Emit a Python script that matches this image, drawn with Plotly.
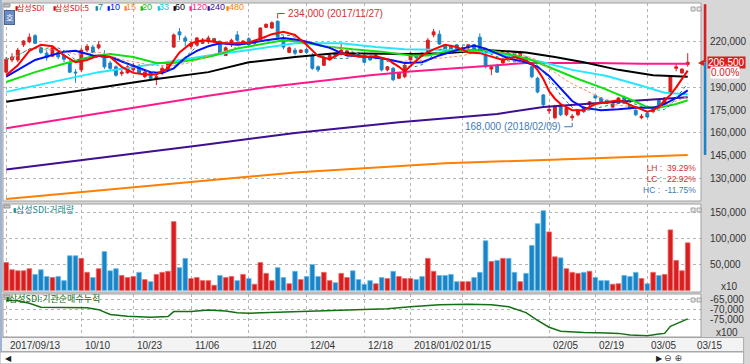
import pandas as pd
import plotly.graph_objects as go

# ---------------- data ----------------
MONTH_DAYS = {
    "2017/09": [13, 14, 15, 18, 19, 20, 21, 22, 25, 26, 27, 28, 29],
    "2017/10": [10, 11, 12, 13, 16, 17, 18, 19, 20, 23, 24, 25, 26, 27, 30, 31],
    "2017/11": [1, 2, 3, 6, 7, 8, 9, 10, 13, 14, 15, 16, 17, 20, 21, 22, 23, 24, 27, 28, 29, 30],
    "2017/12": [1, 4, 5, 6, 7, 8, 11, 12, 13, 14, 15, 18, 19, 20, 21, 22, 26, 27, 28],
    "2018/01": [2, 3, 4, 5, 8, 9, 10, 11, 12, 15, 16, 17, 18, 19, 22, 23, 24, 25, 26, 29, 30, 31],
    "2018/02": [1, 2, 5, 6, 7, 8, 9, 12, 13, 14, 19, 20, 21, 22, 23, 26, 27, 28],
    "2018/03": [2, 5, 6, 7, 8, 9, 12, 13, 14],
}
DATES = [f"{m}/{d:02d}" for m, days in MONTH_DAYS.items() for d in days]
NEXT_DATE = "2018/03/15"

TICK_DATES = ["2017/09/13", "2017/10/10", "2017/10/23", "2017/11/06", "2017/11/20", "2017/12/04",
              "2017/12/18", "2018/01/02", "2018/01/15", "2018/02/05", "2018/02/19", "2018/03/05"]
TICK_LABELS = ["2017/09/13", "10/10", "10/23", "11/06", "11/20", "12/04",
               "12/18", "2018/01/02", "01/15", "02/05", "02/19", "03/05"]
NEXT_LABEL = "03/15"

OPEN = [200000, 208000, 208000, 218000, 220000, 224000, 216000, 212500, 210500, 213000,
        211000, 206000, 200000, 201500, 214500, 216500, 216000, 211000, 206000, 203500,
        199000, 199500, 201500, 204000, 197000, 199500, 196000, 199500, 201500, 216500,
        226500, 222500, 217000, 218000, 219000, 220000, 220000, 220000, 211000, 218000,
        224500, 219000, 222000, 219000, 221000, 229500, 229000, 233500, 222500, 213000,
        214500, 213000, 215000, 211000, 203500, 204500, 208000, 212000, 212500, 211000,
        212500, 212500, 211000, 210000, 209500, 208000, 201500, 202500, 196000, 197000,
        208000, 211000, 212500, 213000, 224500, 225000, 218000, 217000, 218000, 214500,
        216000, 218000, 223000, 211000, 202000, 204500, 206000, 213000, 212500, 211000,
        210000, 203500, 196000, 185000, 174500, 170000, 178500, 172000, 170000, 172000,
        177000, 178500, 184500, 183000, 181500, 177000, 179500, 183500, 178500, 175000,
        170000, 173000, 174000, 181500, 179500, 186000, 202500, 199500, 205000]
HIGH = [210000, 212500, 216000, 221000, 225500, 225000, 217000, 214500, 217000, 214500,
        212500, 208000, 202000, 216000, 218500, 218000, 220500, 214500, 207500, 204500,
        201500, 204500, 206000, 205500, 201500, 200500, 199000, 204000, 207500, 225500,
        229000, 224000, 220000, 223000, 222500, 224000, 222500, 221000, 217000, 222000,
        227000, 221000, 223000, 221000, 229500, 232000, 233500, 234000, 224000, 217000,
        216000, 215000, 216000, 212500, 204500, 210000, 212000, 212500, 219000, 214500,
        214000, 213000, 212000, 210500, 212000, 209500, 204000, 203500, 200000, 205500,
        213000, 212000, 213000, 222500, 228500, 227500, 218500, 218000, 218500, 217000,
        218500, 218500, 225500, 216000, 204000, 205500, 209500, 214500, 213000, 214000,
        210500, 204000, 197000, 185500, 178500, 178500, 179000, 177000, 172500, 175500,
        177500, 181000, 185000, 183500, 182000, 180500, 183500, 184500, 179000, 175500,
        172500, 174000, 177500, 182000, 183500, 197500, 205500, 202500, 212500]
LOW = [199000, 206500, 206500, 216500, 219000, 218500, 212000, 207500, 210000, 208500,
       206500, 199500, 193000, 200000, 213000, 212500, 215000, 202000, 201500, 197000,
       197500, 199000, 200000, 199000, 196000, 195500, 191500, 198000, 200500, 216000,
       221000, 217000, 215000, 217000, 218500, 218500, 219000, 212000, 210500, 216500,
       220000, 218500, 217000, 218500, 220500, 229000, 228500, 222500, 215000, 212500,
       211000, 212500, 212000, 201500, 200000, 204000, 207500, 209500, 211000, 210500,
       210000, 209500, 206000, 207500, 208500, 200500, 200500, 194000, 195500, 196000,
       206500, 208500, 210000, 212500, 223000, 218000, 214000, 214000, 214000, 214000,
       215000, 214000, 212000, 202500, 198000, 199500, 205500, 208500, 210000, 210500,
       206000, 196000, 186000, 177500, 172500, 169000, 171000, 171000, 168000, 171000,
       173000, 177500, 182500, 179500, 179000, 176500, 179000, 179000, 175500, 171000,
       169000, 170000, 173000, 177500, 179000, 185500, 200500, 199000, 203500]
CLOSE = [208500, 210000, 214500, 220500, 223000, 219000, 213000, 209500, 216000, 210000,
         208500, 200000, 199500, 214500, 217000, 213000, 218000, 203500, 202500, 198000,
         200000, 203500, 204500, 199500, 200000, 196000, 197000, 202500, 206000, 224500,
         224500, 220500, 218500, 222500, 221000, 222500, 222000, 212500, 216000, 221000,
         221000, 220500, 218000, 220500, 229000, 231500, 232500, 223000, 216500, 216000,
         212500, 214500, 213000, 202500, 201500, 209500, 211000, 210500, 214500, 214000,
         211000, 210000, 206500, 208000, 211000, 201500, 203500, 195000, 199500, 204500,
         212500, 209500, 210500, 221000, 226500, 218500, 214500, 214500, 214500, 216000,
         218000, 214500, 212500, 203500, 203500, 200000, 208000, 209500, 210500, 213000,
         206500, 197000, 187000, 178500, 175500, 177000, 172000, 176500, 171000, 175000,
         174000, 180500, 183000, 180500, 179500, 179500, 183000, 179500, 176500, 172000,
         171000, 170500, 177000, 178500, 183000, 197000, 203500, 202000, 206500]
VOLUME = [54000, 40000, 38000, 38000, 42000, 31000, 40000, 27000, 25000, 27000,
          19000, 67000, 67000, 62000, 35000, 25000, 42000, 75000, 38000, 42000,
          29000, 25000, 27000, 35000, 21000, 17000, 31000, 35000, 37000, 133000,
          44000, 62000, 23000, 25000, 19000, 19000, 10000, 29000, 25000, 27000,
          19000, 31000, 23000, 12000, 54000, 33000, 19000, 44000, 25000, 13000,
          37000, 21000, 27000, 50000, 27000, 35000, 19000, 15000, 33000, 25000,
          38000, 21000, 12000, 19000, 13000, 25000, 23000, 37000, 27000, 23000,
          23000, 21000, 27000, 62000, 37000, 29000, 29000, 31000, 17000, 17000,
          17000, 25000, 35000, 96000, 56000, 58000, 62000, 62000, 35000, 17000,
          33000, 87000, 129000, 154000, 113000, 65000, 63000, 42000, 35000, 33000,
          35000, 37000, 25000, 19000, 19000, 12000, 13000, 29000, 27000, 35000,
          23000, 13000, 35000, 29000, 31000, 117000, 58000, 38000, 92000]

# moving averages (trading-day index -> value)
MA5_IDX = [0, 2, 4, 6, 8, 10, 12, 14, 16, 18, 20, 22, 24, 26, 28, 29, 30, 32, 34, 36,
           38, 40, 42, 44, 46, 48, 50, 52, 54, 56, 58, 60, 62, 64, 66, 68, 69, 70, 72, 74,
           76, 78, 80, 82, 84, 86, 88, 90, 91, 92, 93, 94, 95, 96, 98, 100, 102, 104, 106, 107,
           108, 110, 111, 112, 113, 114, 115, 116, 117, 118]
MA5_VAL = [198000, 204500, 214000, 218000, 217000, 211000, 206500, 208000, 211000, 210000,
           203500, 199500, 198500, 198500, 202500, 208000, 213000, 219000, 221000, 220000,
           219000, 219000, 219500, 222000, 225000, 226500, 224500, 218000, 210500, 208500,
           212500, 211000, 210000, 210500, 208500, 203500, 200500, 204000, 211000, 215000,
           218000, 216500, 213000, 212500, 210000, 208000, 210000, 207500, 205500, 201500,
           195500, 187500, 182500, 179000, 175000, 175000, 179000, 180500, 181500, 180500,
           178500, 175500, 174000, 175000, 177000, 181500, 185000, 190000, 195500, 201000]
MA10_IDX = [0, 5, 10, 12, 15, 18, 20, 23, 25, 27, 29, 31, 33, 35, 37, 40, 42, 45, 48, 51,
            53, 56, 59, 63, 66, 69, 72, 75, 78, 81, 83, 85, 87, 90, 92, 94, 96, 98, 100, 103,
            106, 109, 112, 114, 116, 118]
MA10_VAL = [197000, 208000, 213500, 214000, 211000, 210000, 207000, 202500, 200000, 199500,
            202500, 209500, 214000, 217000, 219000, 218000, 219000, 221000, 222500, 221000,
            219000, 216000, 211000, 210000, 208500, 206000, 206500, 211000, 214500, 217500,
            215500, 212000, 209000, 206500, 203500, 197500, 189000, 181000, 176500, 175000,
            175500, 176500, 176500, 179000, 183000, 188000]
MA20_IDX = [0, 5, 10, 15, 18, 22, 26, 29, 33, 36, 40, 45, 48, 51, 55, 60, 65, 70, 73, 76,
            80, 84, 88, 91, 95, 99, 103, 106, 109, 111, 113, 116, 118]
MA20_VAL = [193500, 200000, 205500, 210500, 212000, 210000, 206000, 206000, 208500, 211000,
            215500, 219000, 221000, 220000, 217000, 215000, 213500, 211000, 211000, 213500,
            214500, 214000, 211000, 208000, 201500, 195500, 190000, 185500, 180500, 177000,
            176500, 179000, 181500]
MA33_IDX = [0, 10, 16, 26, 35, 42, 50, 58, 64, 69, 77, 85, 93, 98, 104, 110, 114, 118]
MA33_VAL = [187000, 195000, 200000, 205500, 211000, 214500, 219000, 219000, 216500, 215000,
            214500, 212500, 206500, 201500, 197500, 191000, 186500, 185500]
MA60_IDX = [0, 13, 26, 35, 42, 50, 57, 70, 76, 83, 90, 95, 100, 106, 112, 118]
MA60_VAL = [180500, 188000, 195500, 200000, 206500, 210000, 212500, 212000, 212500, 214500,
            213000, 210000, 206500, 201500, 198000, 197000]
MA120_IDX = [0, 18, 35, 45, 56, 63, 70, 77, 90, 102, 110, 118]
MA120_VAL = [163000, 174000, 184500, 190000, 195000, 198000, 200500, 202500, 206000, 206000,
             205500, 205500]
MA240_IDX = [0, 16, 33, 50, 68, 85, 93, 102, 110, 118]
MA240_VAL = [136000, 143500, 151500, 160000, 167000, 172500, 177000, 179500, 181500, 183500]
MA480_IDX = [0, 25, 50, 76, 102, 118]
MA480_VAL = [116500, 125500, 134000, 140000, 143500, 145500]

INST_IDX = [0, 2, 4, 6, 10, 14, 16, 18, 21, 25, 28, 29, 32, 35, 38, 40, 42, 50, 60, 66,
            70, 75, 80, 84, 87, 90, 92, 94, 96, 100, 104, 106, 108, 111, 113, 114, 115, 116, 117, 118]
INST_VAL = [-65150, -65500, -66750, -68750, -68850, -69000, -70000, -72500, -73350, -73850,
            -73500, -71000, -71000, -70150, -70750, -71650, -71850, -71000, -70000, -69500,
            -68500, -67500, -67250, -67500, -68500, -71500, -75500, -79000, -81000, -81750,
            -82000, -82150, -83000, -83350, -82500, -82150, -78500, -77250, -76000, -74750]

PRICE_GRID_TICKS = [130000, 160000, 190000, 220000]
PRICE_EXTRA_TICKS = [145000, 175000]
VOL_TICKS = [50000, 100000, 150000]
INST_TICKS = [-75000, -70000, -65000]
PRICE_RANGE = [115200, 245500]
VOL_RANGE = [-3000, 167000]
INST_RANGE = [-84000, -62000]
DAY_CHANGE_TEXT = "0.00%"

# ---------------- styling ----------------
W, H = 750, 364
ML, MR, MT, MB = 3, 43, 3, 27
PW, PH = W - ML - MR, H - MT - MB


def px(p):
    return (p - ML) / PW


def py(p):
    return (H - MB - p) / PH


UP = "#d81e1e"
UP_EDGE = "#ee6a6a"
DOWN = "#1a84c6"
DOWN_EDGE = "#6cbde8"
GRID = "#b4b4b4"
NUM_FONT = "Liberation Sans Narrow, Arial Narrow, Liberation Sans, Arial, sans-serif"
KR_FONT = "Noto Sans CJK KR, Noto Sans, sans-serif"
TXT = "#333333"

MA_STYLE = [
    ("480", MA480_IDX, MA480_VAL, "#ff8000", 2, "solid"),
    ("240", MA240_IDX, MA240_VAL, "#3c1090", 2, "solid"),
    ("120", MA120_IDX, MA120_VAL, "#ff1a8c", 2, "solid"),
    ("60", MA60_IDX, MA60_VAL, "#000000", 2, "solid"),
    ("33", MA33_IDX, MA33_VAL, "#22e8ff", 2, "solid"),
    ("20", MA20_IDX, MA20_VAL, "#10e010", 2, "solid"),
    ("10", MA10_IDX, MA10_VAL, "#0010ff", 2, "solid"),
    ("5", MA5_IDX, MA5_VAL, "#ff0000", 2, "solid"),
]

fig = go.Figure()

fig.add_trace(go.Candlestick(
    x=DATES, open=OPEN, high=HIGH, low=LOW, close=CLOSE,
    increasing=dict(line=dict(color=UP, width=1), fillcolor=UP),
    decreasing=dict(line=dict(color=DOWN, width=1), fillcolor=DOWN),
    whiskerwidth=0, hoverinfo="skip", showlegend=False, xaxis="x", yaxis="y"))

close_s = pd.Series(CLOSE)
ma7 = close_s.rolling(7, min_periods=1).mean()
ma15 = close_s.rolling(15, min_periods=1).mean()

for name, idx, vals, col, wdt, dash in MA_STYLE:
    fig.add_trace(go.Scatter(
        x=[DATES[i] for i in idx], y=vals, mode="lines",
        line=dict(color=col, width=wdt, dash=dash),
        hoverinfo="skip", showlegend=False, xaxis="x",
        yaxis="y4" if name == "480" else "y"))
    if name == "20":
        fig.add_trace(go.Scatter(x=DATES, y=ma15, mode="lines",
                                 line=dict(color="#ff9060", width=1, dash="3px,2px"),
                                 hoverinfo="skip", showlegend=False))
    if name == "10":
        fig.add_trace(go.Scatter(x=DATES, y=ma7, mode="lines",
                                 line=dict(color="#108888", width=1, dash="dot"),
                                 hoverinfo="skip", showlegend=False))

vol_colors = [UP if c >= o else DOWN for o, c in zip(OPEN, CLOSE)]
vol_edges = [UP_EDGE if c >= o else DOWN_EDGE for o, c in zip(OPEN, CLOSE)]
fig.add_trace(go.Bar(x=DATES, y=VOLUME, width=0.8,
                     marker=dict(color=vol_colors, line=dict(color=vol_edges, width=0.8)),
                     hoverinfo="skip", showlegend=False, xaxis="x2", yaxis="y2"))

fig.add_trace(go.Scatter(x=[DATES[i] for i in INST_IDX], y=INST_VAL, mode="lines",
                         line=dict(color="#137013", width=1.5),
                         hoverinfo="skip", showlegend=False, xaxis="x3", yaxis="y3"))

xcommon = dict(type="category", categoryorder="array", categoryarray=DATES + [NEXT_DATE],
               tickmode="array", tickvals=TICK_DATES, showticklabels=False,
               showgrid=True, gridcolor=GRID, griddash="dot", gridwidth=1,
               zeroline=False, showline=False, ticks="", fixedrange=True)
tickfont = dict(family=NUM_FONT, size=10, color=TXT)
ycommon = dict(side="right", showgrid=True, gridcolor=GRID, griddash="dot", gridwidth=1,
               zeroline=False, showline=False, ticks="", tickfont=tickfont,
               ticklabelstandoff=8, fixedrange=True, tickmode="array")

MAIN_DOM = [py(201), 1.0]
VOL_DOM = [py(292), py(204)]
INST_DOM = [0.0, py(294)]

fig.update_layout(
    width=W, height=H, margin=dict(l=ML, r=MR, t=MT, b=MB),
    paper_bgcolor="#d7d7d7", plot_bgcolor="#ffffff",
    font=dict(family=KR_FONT, size=10, color=TXT),
    hovermode=False, showlegend=False,
    xaxis=dict(domain=[0, 1], anchor="y", range=[-0.56, 120.3],
               rangeslider=dict(visible=False), **xcommon),
    xaxis2=dict(domain=[0, 1], anchor="y2", matches="x", **xcommon),
    xaxis3=dict(domain=[0, 1], anchor="y3", matches="x", **xcommon),
    yaxis=dict(domain=MAIN_DOM, anchor="x", range=PRICE_RANGE, tickvals=PRICE_GRID_TICKS,
               ticktext=[f"{v:,}" for v in PRICE_GRID_TICKS], **ycommon),
    yaxis4=dict(overlaying="y", anchor="x", side="right", range=PRICE_RANGE,
                tickmode="array", tickvals=PRICE_EXTRA_TICKS,
                ticktext=[f"{v:,}" for v in PRICE_EXTRA_TICKS], showgrid=False,
                zeroline=False, showline=False, ticks="", tickfont=tickfont,
                ticklabelstandoff=8, fixedrange=True),
    yaxis2=dict(domain=VOL_DOM, anchor="x2", range=VOL_RANGE, tickvals=VOL_TICKS,
                ticktext=[f"{v:,}" for v in VOL_TICKS], **ycommon),
    yaxis3=dict(domain=INST_DOM, anchor="x3", range=INST_RANGE, tickvals=INST_TICKS,
                ticktext=[f"{v:,}" for v in INST_TICKS], **ycommon),
)

shapes = []
# bottom label strip and scrollbar
shapes.append(dict(type="rect", xref="paper", yref="paper", x0=px(0), x1=px(W), y0=py(351.5), y1=py(337.5),
                   fillcolor="#f3f3f3", line=dict(color="#a8a8a8", width=1), layer="below"))
shapes.append(dict(type="rect", xref="paper", yref="paper", x0=px(0), x1=px(W), y0=py(364), y1=py(352),
                   fillcolor="#ffffff", line=dict(color="#a8a8a8", width=1), layer="below"))
# left window border
shapes.append(dict(type="rect", xref="paper", yref="paper", x0=px(0), x1=px(2), y0=py(352), y1=py(0),
                   fillcolor="#9fb4d2", line=dict(width=0)))
# panel borders
for xd, yd in [("x domain", "y domain"), ("x2 domain", "y2 domain"), ("x3 domain", "y3 domain")]:
    shapes.append(dict(type="rect", xref=xd, yref=yd, x0=0, x1=1, y0=0, y1=1,
                       line=dict(color="#a0a0a0", width=1), fillcolor="rgba(0,0,0,0)"))
# range bar on the price scale (red above last close, blue down to MA480)
shapes.append(dict(type="rect", xref="paper", yref="y", x0=px(709.8), x1=px(712.4),
                   y0=CLOSE[-1], y1=PRICE_RANGE[1] - 800, fillcolor="#d42020", line=dict(width=0)))
shapes.append(dict(type="rect", xref="paper", yref="y", x0=px(709.8), x1=px(712.4),
                   y0=MA480_VAL[-1], y1=CLOSE[-1], fillcolor="#1a84c6", line=dict(width=0)))

hi_i = max(range(len(HIGH)), key=lambda i: HIGH[i])
lo_i = min(range(len(LOW)), key=lambda i: LOW[i])
HI_COL = "#d23232"
LO_COL = "#3f7ab8"
shapes.append(dict(type="path", xref="x", yref="y", xsizemode="pixel", ysizemode="pixel",
                   xanchor=DATES[hi_i], yanchor=HIGH[hi_i], path="M0,2 L0,7 L7,7",
                   line=dict(color=HI_COL, width=1)))
shapes.append(dict(type="path", xref="x", yref="y", xsizemode="pixel", ysizemode="pixel",
                   xanchor=DATES[lo_i], yanchor=LOW[lo_i], path="M0,-2 L0,-6 L-8,-6",
                   line=dict(color=LO_COL, width=1)))
# small panel icons
for top in (3, 204, 294):
    shapes.append(dict(type="rect", xref="paper", yref="paper", x0=px(4), x1=px(10),
                       y0=py(top + 4), y1=py(top + 1), fillcolor="#c8c8c8",
                       line=dict(color="#909090", width=1)))
    for xx in (697, 703):
        shapes.append(dict(type="rect", xref="paper", yref="paper", x0=px(xx), x1=px(xx + 4),
                           y0=py(top + 8), y1=py(top + 4), fillcolor="#e8e8e8",
                           line=dict(color="#a0a0a0", width=1)))
fig.update_layout(shapes=shapes)

ann = []


def add_text(text, x, y, color=TXT, size=10, family=NUM_FONT, xanchor="left", yanchor="middle",
             xref="paper", yref="paper", **kw):
    ann.append(dict(text=text, x=x, y=y, xref=xref, yref=yref, xanchor=xanchor, yanchor=yanchor,
                    showarrow=False, font=dict(color=color, size=size, family=family), **kw))


# legend row
LEGEND = [("삼성SDI", "#d81010", 14), ("삼성SDI:5", "#d81010", 52), ("7", "#108888", 95),
          ("10", "#0010ff", 107), ("15", "#ff8040", 124), ("20", "#10c010", 140),
          ("33", "#10c8e8", 157), ("60", "#000000", 173), ("120", "#ff1a8c", 190),
          ("240", "#3c1090", 208), ("480", "#ff8000", 227)]
for txt, col, x0 in LEGEND:
    add_text("▮", px(x0 - 1), py(7.5), color=col, size=6, family="DejaVu Sans")
    is_kr = "삼" in txt
    add_text(txt, px(x0 + 2.5), py(7.5), color=col, size=8 if is_kr else 9,
             family=KR_FONT if is_kr else NUM_FONT, borderpad=0)
add_text("호", px(4), py(17), color="#ffffff", size=8, family=KR_FONT,
         bgcolor="#6a8cc0", bordercolor="#46649a", borderpad=1)

# panel titles
add_text("▮", px(11), py(209.5), color="#1a8a8a", size=6, family="DejaVu Sans")
add_text("삼성SDI:거래량", px(14), py(209.5), color="#1a8a8a", size=9, family=KR_FONT)
add_text("▮", px(4), py(298.5), color="#137013", size=6, family="DejaVu Sans")
add_text("삼성SDI:기관순매수누적", px(7), py(298.5), color="#137013", size=9, family=KR_FONT)

# high / low labels
add_text(f"{HIGH[hi_i]:,} ({DATES[hi_i]})", DATES[hi_i], HIGH[hi_i], color=HI_COL, size=10,
         xref="x", yref="y", xshift=8, yshift=7)
add_text(f"{LOW[lo_i]:,} ({DATES[lo_i]})", DATES[lo_i], LOW[lo_i], color=LO_COL, size=10,
         xref="x", yref="y", xanchor="right", xshift=-9, yshift=-6)

# LH / LC / HC statistics (one block, three coloured lines)
lh = (HIGH[hi_i] - LOW[lo_i]) / LOW[lo_i] * 100
lc = (CLOSE[-1] - LOW[lo_i]) / LOW[lo_i] * 100
hc = (CLOSE[-1] - HIGH[hi_i]) / HIGH[hi_i] * 100
stat_lines = []
for lab, val, col in [("LH", lh, "#d23232"), ("LC", lc, "#d23232"), ("HC", hc, "#3f7ab8")]:
    stat_lines.append(f"<span style='color:{col}'>{lab} :  {val:.2f}%</span>")
add_text("<br>".join(stat_lines), px(703), py(179), size=8.5,
         family=NUM_FONT, xanchor="right", align="right", borderpad=0)

# last price marker
add_text("◀", px(713), CLOSE[-1], color="#d42020", size=8, family="DejaVu Sans",
         xanchor="right", yref="y")
add_text(f"{CLOSE[-1]:,}", px(713.5), CLOSE[-1], color="#ffffff", size=10, yref="y",
         bgcolor="#d42020", borderpad=0)
add_text(DAY_CHANGE_TEXT, px(746), CLOSE[-1], color="#e02020", size=10, yref="y",
         xanchor="right", yshift=-10, bgcolor="#ffffff", borderpad=0)
add_text("x10", px(746), py(286), xanchor="right")
add_text("x100", px(746), py(332), xanchor="right")

# date labels
for d, lab in zip(TICK_DATES + [NEXT_DATE], TICK_LABELS + [NEXT_LABEL]):
    add_text(lab, d, py(345), xref="x", xshift=1.5)

# scrollbar glyphs
add_text("◀", px(3), py(358), size=8, family="DejaVu Sans", color="#222222")
add_text("▶", px(660), py(358), size=8, family="DejaVu Sans", color="#222222")
add_text("⊖ ⊕", px(668), py(358), size=9, family="DejaVu Sans", color="#444444")

fig.update_layout(annotations=ann)

fig.write_html("out.html", config={"displayModeBar": False},
               post_script="document.body.style.margin='0';document.body.style.overflow='hidden';")
